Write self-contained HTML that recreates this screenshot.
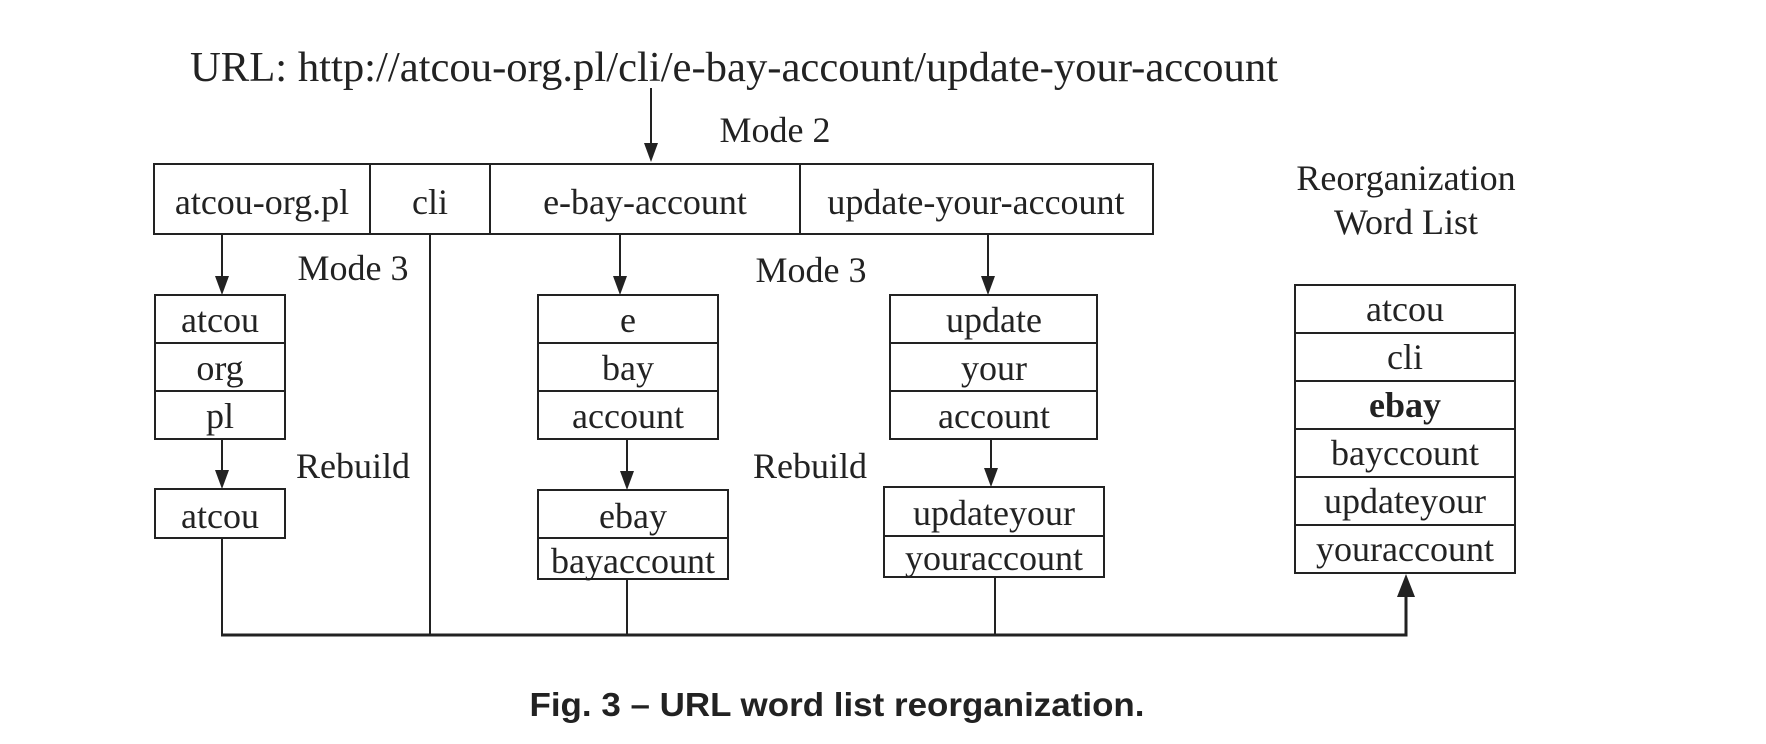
<!DOCTYPE html>
<html><head><meta charset="utf-8"><style>
html,body{margin:0;padding:0;background:#fff;}
svg{display:block;}
text{font-family:"Liberation Serif",serif;fill:#222;}
</style></head><body>
<svg width="1766" height="744" viewBox="0 0 1766 744" xmlns="http://www.w3.org/2000/svg">
<g stroke="#222" stroke-width="2" fill="none">
<rect x="154" y="164" width="999" height="70"/>
<line x1="370" y1="164" x2="370" y2="234"/>
<line x1="490" y1="164" x2="490" y2="234"/>
<line x1="800" y1="164" x2="800" y2="234"/>
<rect x="155" y="295" width="130" height="144"/>
<line x1="155" y1="343" x2="285" y2="343"/>
<line x1="155" y1="391" x2="285" y2="391"/>
<rect x="155" y="489" width="130" height="49"/>
<rect x="538" y="295" width="180" height="144"/>
<line x1="538" y1="343" x2="718" y2="343"/>
<line x1="538" y1="391" x2="718" y2="391"/>
<rect x="538" y="490" width="190" height="89"/>
<line x1="538" y1="538" x2="728" y2="538"/>
<rect x="890" y="295" width="207" height="144"/>
<line x1="890" y1="343" x2="1097" y2="343"/>
<line x1="890" y1="391" x2="1097" y2="391"/>
<rect x="884" y="487" width="220" height="90"/>
<line x1="884" y1="536" x2="1104" y2="536"/>
<rect x="1295" y="285" width="220" height="288"/>
<line x1="1295" y1="333" x2="1515" y2="333"/>
<line x1="1295" y1="381" x2="1515" y2="381"/>
<line x1="1295" y1="429" x2="1515" y2="429"/>
<line x1="1295" y1="477" x2="1515" y2="477"/>
<line x1="1295" y1="525" x2="1515" y2="525"/>
<line x1="651" y1="88" x2="651" y2="145"/>
<line x1="222" y1="234" x2="222" y2="278"/>
<line x1="222" y1="439" x2="222" y2="472"/>
<line x1="620" y1="234" x2="620" y2="278"/>
<line x1="627" y1="439" x2="627" y2="473"/>
<line x1="988" y1="234" x2="988" y2="278"/>
<line x1="991" y1="439" x2="991" y2="470"/>
<line x1="222" y1="538" x2="222" y2="635"/>
<line x1="430" y1="234" x2="430" y2="635"/>
<line x1="627" y1="579" x2="627" y2="635"/>
<line x1="995" y1="577" x2="995" y2="635"/>
<polyline points="221,635 1406,635 1406,595" stroke-width="3"/>
</g>
<g fill="#222">
<polygon points="644,143 658,143 651,162"/>
<polygon points="215,276 229,276 222,295"/>
<polygon points="215,470 229,470 222,489"/>
<polygon points="613,276 627,276 620,295"/>
<polygon points="620,471 634,471 627,490"/>
<polygon points="981,276 995,276 988,295"/>
<polygon points="984,468 998,468 991,487"/>
<polygon points="1397,597 1415,597 1406,574"/>
</g>
<g font-size="36" text-anchor="middle">
<text x="734" y="81" font-size="42" textLength="1088" lengthAdjust="spacingAndGlyphs">URL: http://atcou-org.pl/cli/e-bay-account/update-your-account</text>
<text x="775" y="142">Mode 2</text>
<text x="262" y="214">atcou-org.pl</text>
<text x="430" y="214">cli</text>
<text x="645" y="214">e-bay-account</text>
<text x="976" y="214">update-your-account</text>
<text x="1406" y="190">Reorganization</text>
<text x="1406" y="234">Word List</text>
<text x="353" y="280">Mode 3</text>
<text x="811" y="282">Mode 3</text>
<text x="353" y="478">Rebuild</text>
<text x="810" y="478">Rebuild</text>
<text x="220" y="332">atcou</text>
<text x="220" y="380">org</text>
<text x="220" y="428">pl</text>
<text x="220" y="528">atcou</text>
<text x="628" y="332">e</text>
<text x="628" y="380">bay</text>
<text x="628" y="428">account</text>
<text x="633" y="528">ebay</text>
<text x="633" y="573">bayaccount</text>
<text x="994" y="332">update</text>
<text x="994" y="380">your</text>
<text x="994" y="428">account</text>
<text x="994" y="525">updateyour</text>
<text x="994" y="570">youraccount</text>
<text x="1405" y="321">atcou</text>
<text x="1405" y="369">cli</text>
<text x="1405" y="417" font-weight="bold">ebay</text>
<text x="1405" y="465">bayccount</text>
<text x="1405" y="513">updateyour</text>
<text x="1405" y="561">youraccount</text>
</g>
<text x="837" y="716" font-weight="bold" font-size="33" text-anchor="middle" textLength="615" lengthAdjust="spacingAndGlyphs" style="font-family:'Liberation Sans',sans-serif">Fig. 3 – URL word list reorganization.</text>
</svg>
</body></html>
